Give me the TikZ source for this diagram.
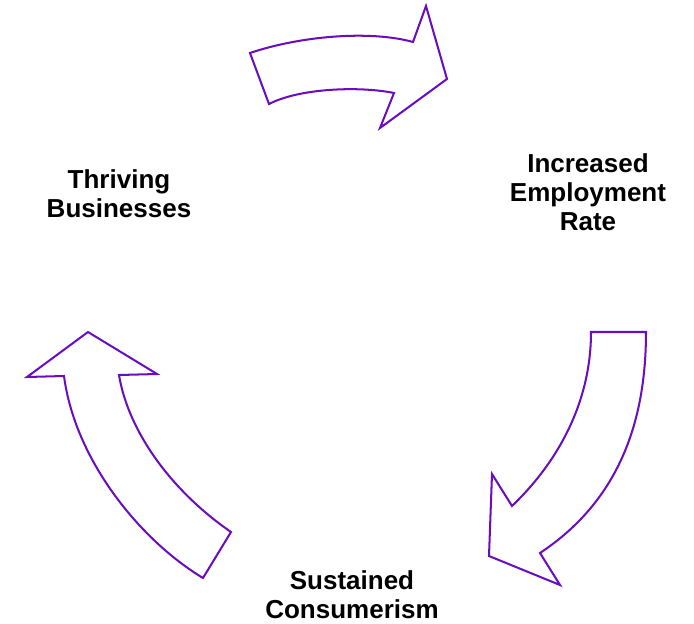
\documentclass[tikz,border=0pt]{standalone}
\usepackage{fontspec}
\setmainfont{Liberation Sans}
\usepackage{tikz}
\definecolor{cyclepurple}{RGB}{106,13,190}
\tikzstyle{blockarrow}=[draw=cyclepurple, fill=white, line width=1.15pt, line join=miter]
\tikzstyle{stage}=[align=center, font=\fontsize{14.8}{16.6}\selectfont\bfseries, inner sep=0pt]

\begin{document}
\begin{tikzpicture}[x=0.02cm, y=-0.02cm]
	\useasboundingbox (0,0) rectangle (694,623);

	% top arrow, pointing right
	\draw[blockarrow] (250,53) .. controls (300,36) and (370,30) .. (413,42)
		-- (426,6) -- (447,79) -- (380,128) -- (394,93)
		.. controls (360,86) and (300,88) .. (269,104) -- cycle;
	% right arrow, pointing down
	\draw[blockarrow] (591,332) -- (646,332)
		.. controls (646,420) and (620,500) .. (540,553)
		-- (560,585) -- (489,556) -- (492,474) -- (512,506)
		.. controls (560,460) and (591,400) .. (591,332) -- cycle;
	% left arrow, pointing up
	\draw[blockarrow] (88,332) -- (157,374) -- (119,375)
		.. controls (128,430) and (170,490) .. (231,532)
		-- (203,578)
		.. controls (140,540) and (75,460) .. (64,376)
		-- (27,377) -- cycle;

	\node[stage] (businesses) at (119,193.5) {Thriving\\Businesses};
	\node[stage] (employment) at (588,192) {Increased\\Employment\\Rate};
	\node[stage] (consumerism) at (352,595) {Sustained\\Consumerism};

\end{tikzpicture}
\end{document}
